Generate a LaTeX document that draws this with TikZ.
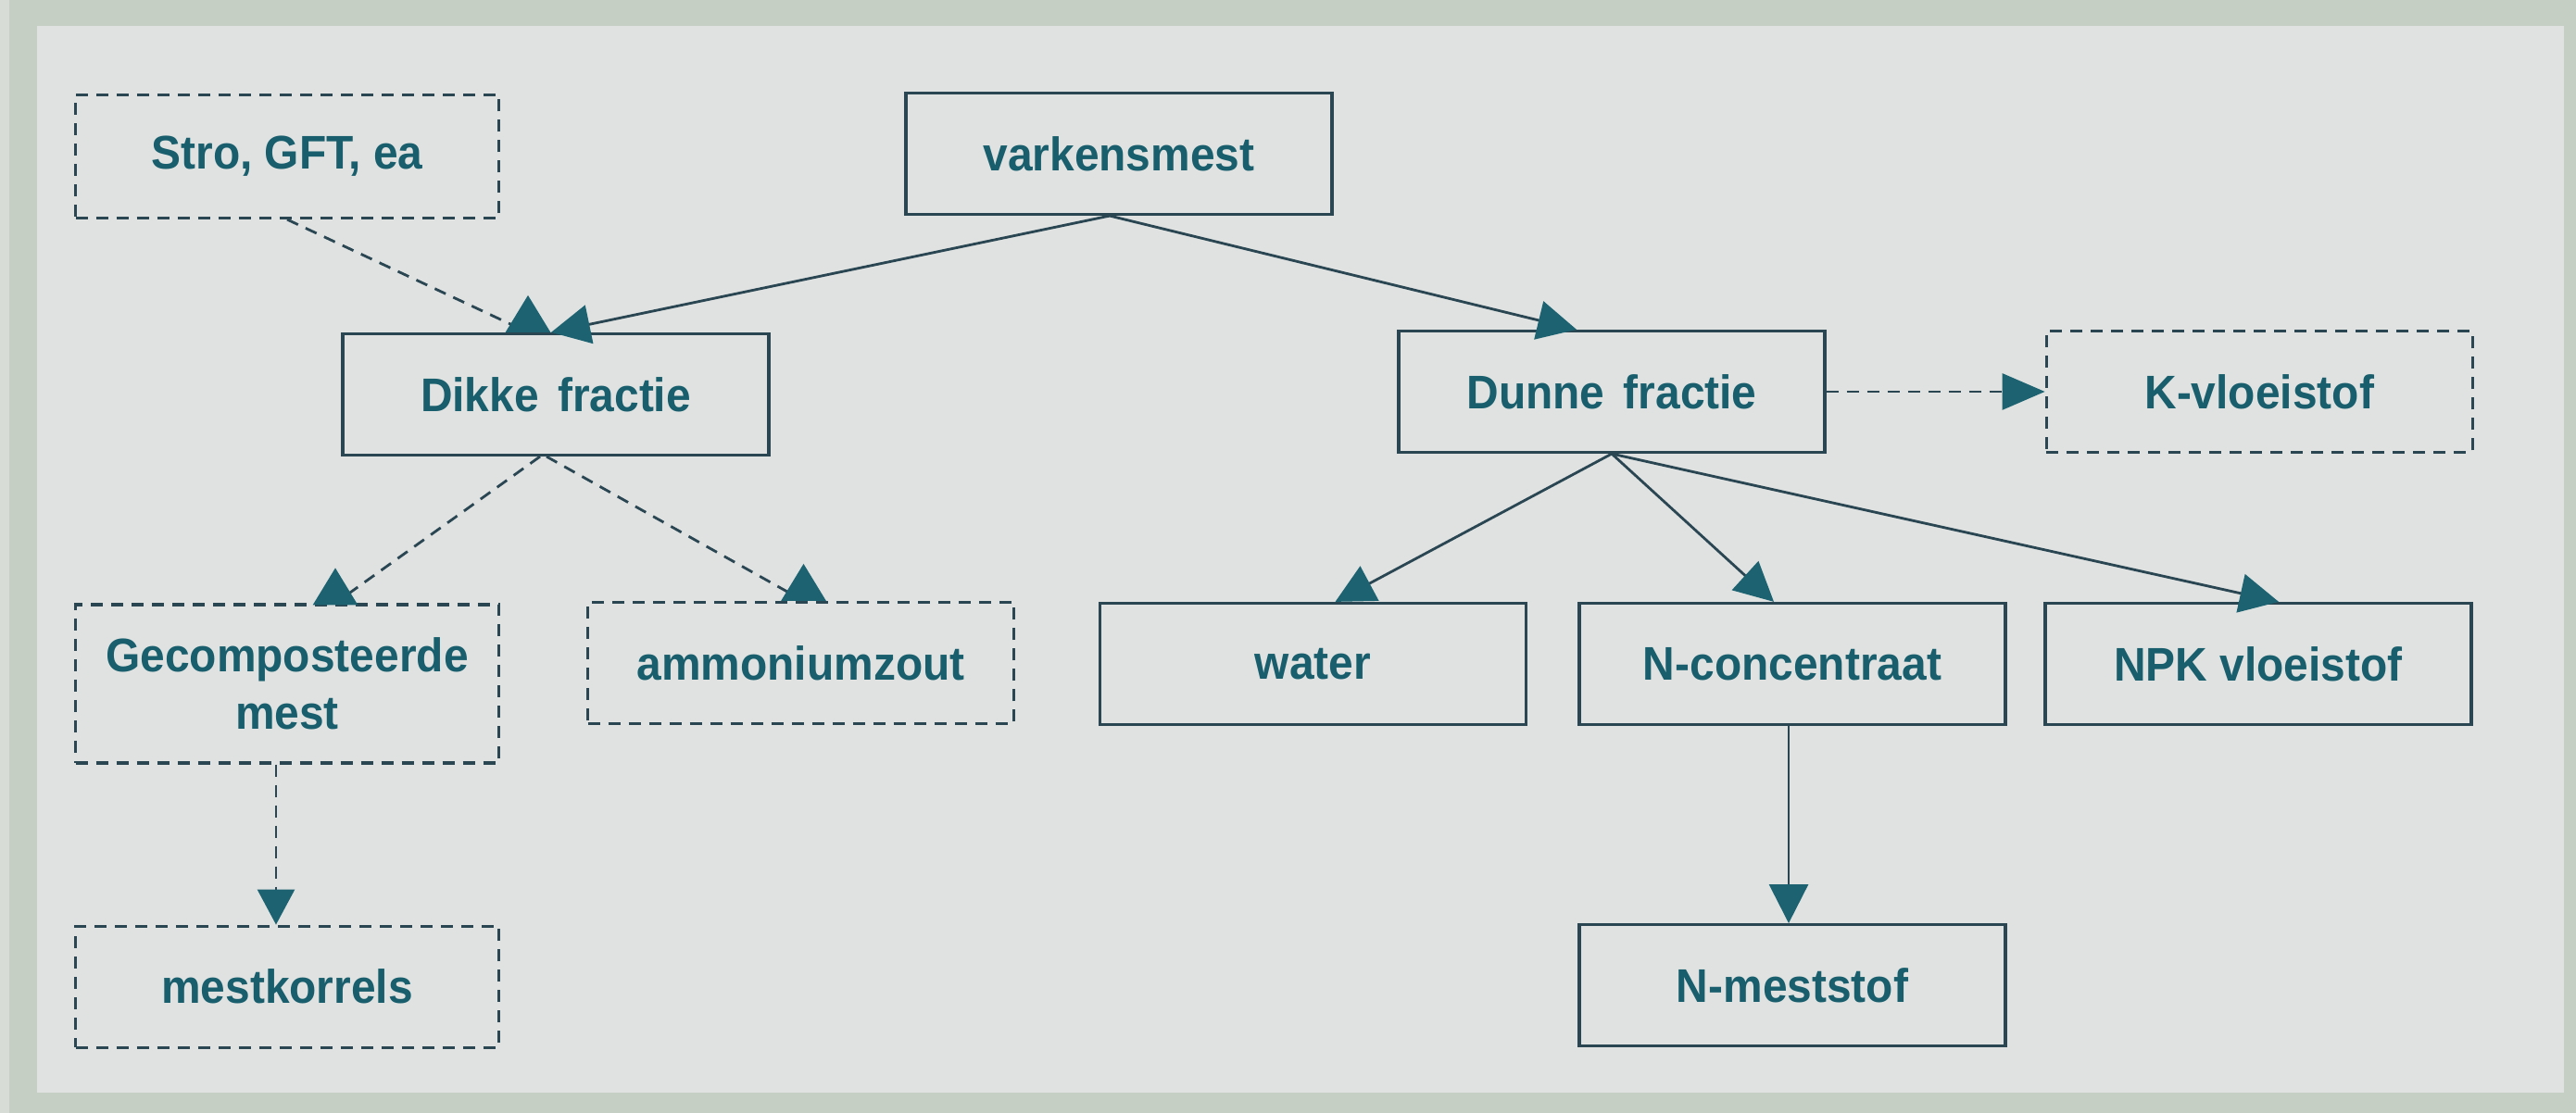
\documentclass[tikz,border=0pt]{standalone}
\usepackage{fontspec}
\usepackage{xcolor}
\usepackage{tikz}
\usetikzlibrary{arrows.meta, positioning}
\newfontfamily\mestfont{Liberation Sans}[FakeStretch=0.94]
\definecolor{mesttext}{RGB}{24, 94, 108}
\definecolor{boxline}{RGB}{42, 70, 82}
\definecolor{tealtip}{RGB}{28, 98, 112}
\definecolor{panelgray}{RGB}{223, 226, 225}
\definecolor{framegreen}{RGB}{198, 207, 196}
\definecolor{framelight}{RGB}{216, 220, 214}

\begin{document}
\begin{tikzpicture}[
    box/.style={rectangle, draw=boxline, line width=0.9pt, minimum width=4.6cm, minimum height=1.31cm, inner sep=0pt, align=center, text=mesttext, font=\mestfont\bfseries\fontsize{14.5}{17.5}\selectfont},
    dbox/.style={box, dash pattern=on 1.3mm off 0.9mm},
    flow/.style={-{Triangle[length=4.2mm, width=4.2mm, color=tealtip]}, draw=boxline, line width=0.8pt},
    dflow/.style={flow, dash pattern=on 1.3mm off 0.9mm},
    upflow/.style={dflow, -{Triangle[length=4mm, width=4.8mm, color=tealtip]}}
]
% Frame and panel
\useasboundingbox (0,0) rectangle (27.81,12.02);
\fill[framegreen] (0,0) rectangle (27.81,12.02);
\fill[framelight] (0,0) rectangle (0.1,12.02);
\fill[panelgray] (0.40,0.22) rectangle (27.68,11.74);

% Main boxes
\node[box] (vark) at (12.08,10.36) {varkensmest};
\node[dbox, minimum width=4.57cm, minimum height=1.33cm] (stro) at (3.10,10.33) {Stro, GFT, ea};
\node[box] (dikke) at (6.00,7.76) {Dikke\hspace{0.4em}fractie};
\node[box] (dunne) at (17.40,7.79) {Dunne\hspace{0.4em}fractie};
\node[dbox, right=2.36cm of dunne] (kvloei) {K-vloeistof};

% Second row
\node[dbox, minimum width=4.57cm, minimum height=1.71cm] (gecomp) at (3.10,4.635) {Gecomposteerde\\mest};
\node[dbox] (ammon) at (8.645,4.86) {ammoniumzout};
\node[box] (water) at (14.175,4.85) {water};
\node[box] (nconc) at (19.35,4.85) {N-concentraat};
\node[box] (npk) at (24.38,4.85) {NPK vloeistof};

% Bottom row
\node[dbox, minimum width=4.57cm, below=1.73cm of gecomp] (mestk) {mestkorrels};
\node[box, below=2.13cm of nconc] (nmest) {N-meststof};

% Arrows
\draw[flow] ([xshift=-0.1cm]vark.south) -- ([xshift=-0.05cm]dikke.north);
\draw[flow] ([xshift=-0.1cm]vark.south) -- ([xshift=-0.38cm]dunne.north);
\draw[upflow] (stro.south) -- ([xshift=-0.3cm]dikke.north) -- ++(0,0.4);
\draw[upflow] ([xshift=-0.17cm]dikke.south) -- ([xshift=0.52cm]gecomp.north) -- ++(0,0.38);
\draw[upflow] ([xshift=-0.1cm]dikke.south) -- ([xshift=0.03cm]ammon.north) -- ++(0,0.4);
\draw[dflow, -{Triangle[length=3.8mm, width=4mm, color=tealtip]}] ([xshift=-0.12cm]gecomp.south) -- ([xshift=-0.12cm]mestk.north);
\draw[dflow, -{Triangle[length=4.6mm, width=3.9mm, color=tealtip]}] (dunne.east) -- (kvloei.west);
\draw[flow] (dunne.south) -- ([xshift=0.24cm]water.north);
\draw[flow] (dunne.south) -- ([xshift=-0.2cm]nconc.north);
\draw[flow] (dunne.south) -- ([xshift=0.22cm]npk.north);
\draw[flow] ([xshift=-0.04cm]nconc.south) -- ([xshift=-0.04cm]nmest.north);
\end{tikzpicture}
\end{document}
